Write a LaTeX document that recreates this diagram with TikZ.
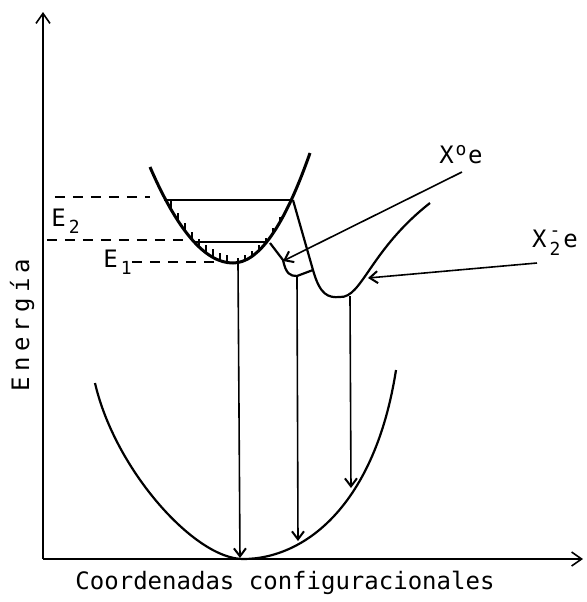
\documentclass[tikz,border=0pt]{standalone}
\usepackage{fontspec}
\setmonofont{DejaVu Sans Mono}
\usetikzlibrary{arrows.meta,calc}

\begin{document}
\begin{tikzpicture}[x=0.5pt,y=-0.5pt,
    axis/.style={line width=0.8pt, -{Straight Barb[length=5pt,width=7pt]}},
    curve/.style={line width=1.1pt},
    level/.style={line width=0.9pt},
    guide/.style={line width=0.9pt, dash pattern=on 5pt off 4pt},
    hatch/.style={line width=0.8pt},
    jump/.style={line width=0.8pt, -{Straight Barb[length=4pt,width=6pt,line width=1pt]}},
    lbl/.style={font=\ttfamily\fontsize{12}{14}\selectfont, inner sep=0pt}
]
\useasboundingbox (0,0) rectangle (586,602);

% Axes
\coordinate (O) at (43,559);
\coordinate (ytop) at (43,12);
\coordinate (xend) at (583,559);
\draw[axis] (O) -- (ytop);
\draw[axis] (O) -- (xend);

% Labels
\node[lbl] (xlabel) at (285,583) {Coordenadas configuracionales};
\node[lbl,rotate=90] (ylabel) at (22,325) {\addfontfeature{LetterSpace=22}Energía};
\node[lbl] (E2lbl) at (67,221) {E\raisebox{-0.5ex}{\makebox[0.7em]{\small 2}}};
\node[lbl] (E1lbl) at (119,262) {E\raisebox{-0.5ex}{\makebox[0.7em]{\small 1}}};
\node[lbl] (Xe) at (461,155) {X\makebox[0.6em]{\raisebox{0.6ex}{\small o}}e};
\node[lbl] (Xme) at (555,243) {X\makebox[0.7em]{\rlap{\raisebox{0.9ex}{\small -}}\raisebox{-0.6ex}{\small 2}}e};

% Ground state
\coordinate (gl) at (95,383);
\coordinate (g0) at (243,559);
\coordinate (gr) at (396,370);
\draw[curve] (gl) .. controls (115,470) and (195,559) .. (g0)
  .. controls (305,559) and (375,505) .. (gr);

% X0e state
\coordinate (al) at (150,167);
\coordinate (a0) at (233,263);
\coordinate (ar) at (310,153);
\draw[curve, line width=1.5pt] (al) .. controls (177.7,231) and (205.3,263) .. (a0)
  .. controls (258.7,263) and (284.3,226.3) .. (ar);
\foreach \hx in {171,178,...,231}
  \draw[hatch] (\hx,{263-0.01394*(\hx-233)^2}) -- ++(0,-8);
\foreach \hx in {238,245,...,280}
  \draw[hatch] (\hx,{263-0.01855*(\hx-233)^2}) -- ++(0,-5);

% Levels
\coordinate (e2l) at (164,200);
\coordinate (e2r) at (293,200);
\coordinate (e1l) at (193,242);
\coordinate (e1r) at (267,242);
\draw[level] (e2l) -- (e2r);
\draw[level] (e1l) -- (e1r);
\draw[guide] (55,197) -- (150,197);
\draw[guide] (47,240) -- (190,240);
\draw[guide] (132,262) -- (228,262);

% X2e state
\coordinate (b0) at (340,297);
\coordinate (bend) at (430,203);
\draw[curve] (e2r) -- (313,270) .. controls (320,295) and (328,298) .. (b0)
  .. controls (362,298) and (370,250) .. (bend);
\coordinate (s0) at (297,276);
\draw[curve] (270,243) -- (283,260) .. controls (286,274) and (290,276) .. (s0) -- (313,270);

% Transitions
\coordinate (a1) at (238,263);
\coordinate (b1) at (350,296);
\draw[jump] (a1) -- (240,558);
\draw[jump] (s0) -- (298,541);
\draw[jump] (b1) -- (351,488);

% Pointers
\coordinate (Xetail) at (462,172);
\coordinate (Xetip) at (283,261);
\coordinate (Xmetail) at (537,263);
\coordinate (Xmetip) at (368,278);
\draw[jump] (Xetail) -- (Xetip);
\draw[jump] (Xmetail) -- (Xmetip);

\end{tikzpicture}
\end{document}
